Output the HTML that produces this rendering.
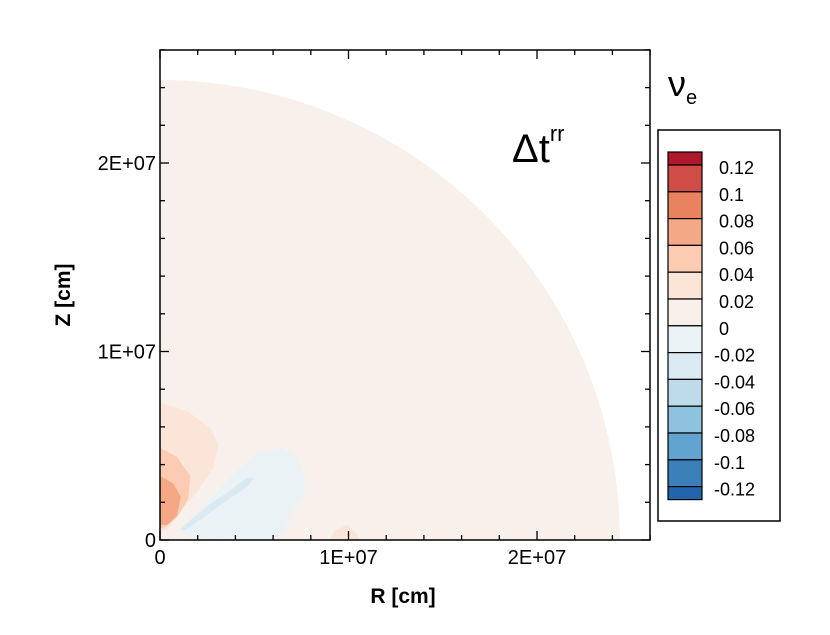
<!DOCTYPE html>
<html><head><meta charset="utf-8"><style>
body{margin:0;background:#fff;}
svg text{font-family:"Liberation Sans",sans-serif;}
</style></head><body>
<svg id="chart" width="830" height="630" viewBox="0 0 830 630" xmlns="http://www.w3.org/2000/svg">
<defs><clipPath id="plotclip"><rect x="160" y="50" width="490" height="490"/></clipPath></defs>
<g id="fills" clip-path="url(#plotclip)"></g>
<rect x="160" y="50" width="490" height="490" fill="none" stroke="#000" stroke-width="1.5"/>
<g id="ticks"></g>
<text x="403" y="603" font-size="21" font-weight="bold" text-anchor="middle">R [cm]</text>
<text transform="translate(70,295) rotate(-90)" font-size="21" font-weight="bold" text-anchor="middle">Z [cm]</text>
<text x="512" y="162" font-size="40">Δt<tspan font-size="22" dy="-21">rr</tspan></text>
<text x="668" y="96" font-size="36">ν<tspan font-size="20" dy="8">e</tspan></text>
<rect x="658" y="130" width="122" height="391" fill="#fff" stroke="#000" stroke-width="1.5"/>
<g id="colorbar"></g>
</svg>
<script>
const levels=[0.12,0.1,0.08,0.06,0.04,0.02,0,-0.02,-0.04,-0.06,-0.08,-0.1,-0.12];
const bandColors=["#b2182b","#d04c46","#e8825f","#f4a886","#fbcbb2","#fbe4d8","#f8f0eb","#ebf2f5","#dbeaf2","#bedbea","#8fc2de","#60a4cf","#3c80ba","#2166ac"];
const xTicks=[0,1e7,2e7];const xTickLabels=["0","1E+07","2E+07"];
const yTicks=[0,1e7,2e7];const yTickLabels=["0","1E+07","2E+07"];
const shockRadius=2.44e7;
const blob002=[[0,7.3],[1.5,6.8],[2.7,5.9],[3.1,5.0],[2.8,3.8],[2.0,2.6],[1.0,1.4],[0.4,0.6],[0,0.4]];
const blob004=[[0,4.9],[0.9,4.4],[1.6,3.4],[1.5,2.2],[0.9,1.2],[0.3,0.7],[0,0.6]];
const blob006=[[0,3.4],[0.7,3.0],[1.1,2.3],[0.9,1.3],[0.4,0.8],[0,0.8]];
const blobNeg0=[[1.0,0.5],[2.5,2.0],[4.0,3.6],[5.2,4.6],[6.4,4.9],[7.2,4.5],[7.7,3.4],[7.6,2.4],[7.0,1.4],[6.5,0.3],[6.0,0],[3.5,0],[1.5,0.2]];
const blobNeg2=[[1.1,0.6],[2.5,1.8],[3.8,2.7],[4.6,3.3],[5.0,3.3],[4.6,2.8],[3.4,2.0],[2.2,1.1],[1.3,0.5]];
const blobBump=[[9.0,0],[9.3,0.5],[9.9,0.8],[10.4,0.4],[10.6,0]];
const X0=160,Y0=540,PX=18.85/1e6;
const sx=v=>X0+v*PX, sy=v=>Y0-v*PX;
const ns="http://www.w3.org/2000/svg";
const fills=document.getElementById('fills');
const q=document.createElementNS(ns,'path');
const r=shockRadius;
q.setAttribute('d',`M${sx(0)},${sy(0)} L${sx(r)},${sy(0)} A${r*PX},${r*PX} 0 0 0 ${sx(0)},${sy(r)} Z`);
q.setAttribute('fill',bandColors[6]);


fills.appendChild(q);
function blob(pts,ci,name){const p=document.createElementNS(ns,'path');
 p.setAttribute('d','M'+pts.map(a=>sx(a[0]*1e6)+','+sy(a[1]*1e6)).join(' L')+' Z');
 p.setAttribute('fill',bandColors[ci]);
 
 
 fills.appendChild(p);}
blob(blob002,5,'contour-0.02');blob(blob004,4,'contour-0.04');blob(blob006,3,'contour-0.06');
blob(blobNeg0,7,'contour-neg-0');blob(blobNeg2,8,'contour-neg-0.02');blob(blobBump,5,'contour-bump');
const tg=document.getElementById('ticks');
function line(x1,y1,x2,y2,n){const l=document.createElementNS(ns,'line');
 l.setAttribute('x1',x1);l.setAttribute('y1',y1);l.setAttribute('x2',x2);l.setAttribute('y2',y2);
 l.setAttribute('stroke','#000');l.setAttribute('stroke-width','1.3');
 
 
 tg.appendChild(l);}
for(let v=0;v<=2.6e7;v+=2e6){const maj=v%1e7===0,L=maj?9:5;
 line(sx(v),540,sx(v),540-L,'x-tick');line(sx(v),50,sx(v),50+L,'x-tick');
 line(160,sy(v),160+L,sy(v),'y-tick');line(650,sy(v),650-L,sy(v),'y-tick');}
function txt(x,y,s,anchor,size,n){const t=document.createElementNS(ns,'text');
 t.setAttribute('x',x);t.setAttribute('y',y);t.setAttribute('text-anchor',anchor);t.setAttribute('font-size',size);t.textContent=s;
 
 
 return t;}
xTicks.forEach((v,i)=>tg.appendChild(txt(sx(v),564,xTickLabels[i],'middle',20,'x-tick-label')));
yTicks.forEach((v,i)=>tg.appendChild(txt(156,sy(v)+7,yTickLabels[i],'end',20,'y-tick-label')));
const cb=document.getElementById('colorbar');
const cbTop=152,cbStep=26.8,cbX=668,cbW=34;
bandColors.forEach((c,i)=>{let y0=i===0?cbTop:cbTop+13+(i-1)*cbStep;let h=(i===0||i===bandColors.length-1)?13:cbStep;
 const rc=document.createElementNS(ns,'rect');rc.setAttribute('x',cbX);rc.setAttribute('y',y0);rc.setAttribute('width',cbW);rc.setAttribute('height',h);
 rc.setAttribute('fill',c);rc.setAttribute('stroke','#000');rc.setAttribute('stroke-width','1.2');
 
 
 cb.appendChild(rc);});
levels.forEach((v,i)=>{const y=cbTop+13+i*cbStep;
 cb.appendChild(txt(v<0?714:719,y+9,String(v),'start',18,'colorbar-label'));});
</script>
</body></html>
